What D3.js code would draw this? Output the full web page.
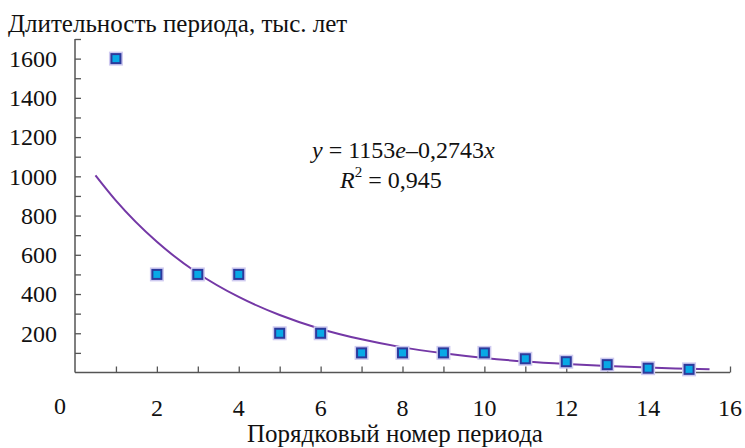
<!DOCTYPE html>
<html>
<head>
<meta charset="utf-8">
<script src="https://d3js.org/d3.v7.min.js"></script>
</head>
<body style="margin:0">
<div id="chart"></div>
<script>
// observed durations (periods 1..15)
const periods = [1, 2, 3, 4, 5, 6, 7, 8, 9, 10, 11, 12, 13, 14, 15];
const durations = [1600, 500, 500, 500, 200, 200, 100, 100, 100, 100, 70, 55, 40, 22, 16];

// exponential trend as drawn
const trendX = [0.5, 1, 2, 3, 4, 5, 6, 7, 8, 9, 10, 11, 12, 13, 14, 15, 15.5];
const trendY = [1005, 876, 666, 506, 385, 293, 222, 169, 128, 98, 74, 56, 43, 33, 25, 19, 16];

const yTickLabels = [200, 400, 600, 800, 1000, 1200, 1400, 1600];
const xTickLabels = [2, 4, 6, 8, 10, 12, 14, 16];

const yTitle = "Длительность периода, тыс. лет";
const xTitle = "Порядковый номер периода";
const eqCoef = "1153";
const eqExp = "–0,2743";
const r2Value = "0,945";

const width = 745,
  height = 448;
const fontName = "Liberation Serif";

const svg = d3
  .select("#chart")
  .append("svg")
  .attr("width", width)
  .attr("height", height)
  .attr("font-family", fontName);

const x = d3.scaleLinear().domain([0, 16]).range([75, 730]);
const y = d3.scaleLinear().domain([0, 1700]).range([372.5, 39]);

function styleText(sel, size) {
  sel
    .attr("font-family", fontName)
    .style("font-family", `'${fontName}'`)
    .style("font-size", size + "px")
    .style("fill", "#111");
}

function drawAxes() {
  const axisColor = "#555";
  // y axis, ticks pointing inward
  const yAxis = svg
    .append("g")
    .attr("transform", `translate(${x(0)},0)`)
    .call(
      d3
        .axisRight(y)
        .tickValues(d3.range(100, 1800, 100))
        .tickSize(6)
        .tickFormat("")
    )
    .attr("font-family", null);
  yAxis
    .select(".domain")
    .attr("stroke", axisColor)
    .attr("stroke-width", 1.5)
    .attr("d", `M0,${y(1700)}V${y(0)}`);
  yAxis.selectAll(".tick line").attr("stroke", axisColor).attr("stroke-width", 1.3);
  yAxis.selectAll(".tick text").remove();

  // x axis, ticks pointing up
  const xAxis = svg
    .append("g")
    .attr("transform", `translate(0,${y(0)})`)
    .call(
      d3
        .axisTop(x)
        .tickValues(d3.range(1, 17, 1))
        .tickSize(6)
        .tickFormat("")
    )
    .attr("font-family", null);
  xAxis
    .select(".domain")
    .attr("stroke", axisColor)
    .attr("stroke-width", 1.5)
    .attr("d", `M${x(0)},0H${x(16)}`);
  xAxis.selectAll(".tick line").attr("stroke", axisColor).attr("stroke-width", 1.3);
  xAxis.selectAll(".tick text").remove();

  svg
    .selectAll("text.ylab")
    .data(yTickLabels)
    .enter()
    .append("text")
    .attr("class", "ylab")
    .call(styleText, 24)
    .attr("x", 57)
    .attr("y", (d) => y(d))
    .attr("dy", "0.35em")
    .attr("text-anchor", "end")
    .text((d) => d);

  svg
    .selectAll("text.xlab")
    .data(xTickLabels)
    .enter()
    .append("text")
    .attr("class", "xlab")
    .call(styleText, 24)
    .attr("x", (d) => x(d))
    .attr("y", 416)
    .attr("text-anchor", "middle")
    .text((d) => d);

  // shared origin label
  svg
    .append("text")
    .call(styleText, 24)
    .attr("x", 60)
    .attr("y", 414)
    .attr("text-anchor", "middle")
    .text("0");
}

function drawTitles() {
  svg
    .append("text")
    .call(styleText, 25)
    .attr("x", 8)
    .attr("y", 32)
    .text(yTitle);

  svg
    .append("text")
    .call(styleText, 25)
    .attr("x", 395)
    .attr("y", 442)
    .attr("text-anchor", "middle")
    .text(xTitle);
}

function drawTrend() {
  const pts = trendX.map((d, i) => [d, trendY[i]]);
  svg
    .append("path")
    .datum(pts)
    .attr("fill", "none")
    .attr("stroke", "#7438a6")
    .attr("stroke-width", 2)
    .attr(
      "d",
      d3
        .line()
        .x((d) => x(d[0]))
        .y((d) => y(d[1]))
        .curve(d3.curveMonotoneX)
    );
}

function drawPoints() {
  const data = periods.map((p, i) => ({ p: p, v: durations[i] }));
  // soft halo
  svg
    .selectAll("rect.halo")
    .data(data)
    .enter()
    .append("rect")
    .attr("class", "halo")
    .attr("x", (d) => x(d.p) - 7)
    .attr("y", (d) => y(d.v) - 7)
    .attr("width", 14)
    .attr("height", 14)
    .attr("fill", "#cfcaf0");

  svg
    .selectAll("rect.pt")
    .data(data)
    .enter()
    .append("rect")
    .attr("class", "pt")
    .attr("x", (d) => x(d.p) - 4.5)
    .attr("y", (d) => y(d.v) - 4.5)
    .attr("width", 9)
    .attr("height", 9)
    .attr("fill", "#08a9e6")
    .attr("stroke", "#2c3a9c")
    .attr("stroke-width", 2);
}

function drawEquation() {
  const eq = svg
    .append("text")
    .call(styleText, 24)
    .attr("x", 312)
    .attr("y", 158);
  eq.append("tspan").style("font-style", "italic").text("y");
  eq.append("tspan").text(" = " + eqCoef);
  eq.append("tspan").style("font-style", "italic").text("e");
  eq.append("tspan").text(eqExp);
  eq.append("tspan").style("font-style", "italic").text("x");

  const r2 = svg
    .append("text")
    .call(styleText, 24)
    .attr("x", 340)
    .attr("y", 188);
  r2.append("tspan").style("font-style", "italic").text("R");
  r2.append("tspan").attr("dy", -11).style("font-size", "15px").text("2");
  r2.append("tspan").attr("dy", 11).text(" = " + r2Value);
}

drawAxes();
drawTrend();
drawPoints();
drawEquation();
drawTitles();
</script>
</body>
</html>
